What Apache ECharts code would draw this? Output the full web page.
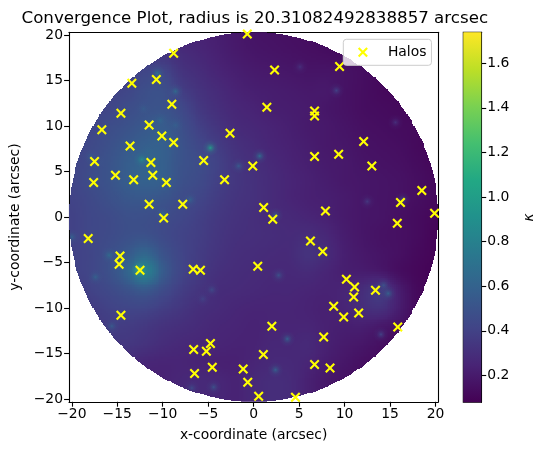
<!DOCTYPE html>
<html>
<head>
<meta charset="utf-8">
<style>html,body{margin:0;padding:0;background:#fff;overflow:hidden}#c{width:542px;height:455px}</style>
<script src="https://cdn.jsdelivr.net/npm/echarts@6/dist/echarts.min.js"></script>
</head>
<body>
<div id="c"></div>
<script>
// Convergence map sampled every 2 arcsec, rows run from y = +20 to y = -20.
const gridX = [-20,-18,-16,-14,-12,-10,-8,-6,-4,-2,0,2,4,6,8,10,12,14,16,18,20];
const gridY = [20,18,16,14,12,10,8,6,4,2,0,-2,-4,-6,-8,-10,-12,-14,-16,-18,-20];
const kappaRows = [
[.30,.30,.30,.30,.30,.30,.26,.24,.22,.19,.17,.16,.15,.14,.13,.12,.11,.10,.10,.10,.10],
[.32,.32,.32,.34,.34,.33,.29,.26,.23,.20,.18,.17,.16,.15,.14,.13,.12,.11,.10,.10,.10],
[.35,.35,.36,.38,.42,.42,.33,.29,.25,.22,.20,.19,.18,.17,.17,.16,.14,.12,.11,.10,.10],
[.36,.38,.40,.42,.47,.48,.38,.32,.28,.24,.22,.21,.20,.19,.19,.16,.14,.12,.11,.10,.10],
[.38,.40,.42,.46,.49,.50,.44,.35,.30,.26,.24,.22,.21,.20,.18,.16,.14,.13,.12,.10,.10],
[.40,.42,.46,.49,.53,.55,.48,.39,.33,.28,.26,.24,.22,.20,.19,.17,.15,.14,.13,.12,.10],
[.42,.44,.48,.53,.57,.58,.50,.43,.37,.31,.28,.25,.23,.21,.19,.18,.16,.15,.14,.12,.10],
[.42,.45,.50,.56,.60,.58,.50,.46,.40,.33,.30,.27,.24,.22,.20,.19,.17,.16,.15,.13,.11],
[.42,.46,.50,.56,.59,.57,.49,.45,.39,.34,.31,.28,.25,.23,.21,.19,.18,.17,.16,.14,.12],
[.41,.44,.48,.52,.53,.51,.46,.42,.37,.33,.31,.28,.25,.23,.22,.20,.18,.17,.16,.14,.12],
[.40,.43,.45,.48,.48,.46,.43,.39,.35,.32,.30,.28,.27,.25,.23,.20,.18,.17,.15,.13,.11],
[.40,.43,.45,.48,.49,.45,.41,.38,.34,.31,.30,.29,.28,.29,.26,.21,.18,.16,.15,.13,.10],
[.40,.42,.47,.53,.62,.50,.42,.37,.33,.30,.29,.28,.28,.32,.28,.22,.19,.17,.15,.12,.10],
[.40,.42,.48,.60,.80,.56,.42,.36,.31,.29,.28,.27,.27,.28,.25,.22,.21,.19,.14,.11,.09],
[.36,.40,.44,.49,.54,.46,.38,.33,.29,.28,.27,.26,.26,.25,.24,.25,.29,.35,.21,.12,.10],
[.33,.36,.40,.42,.42,.38,.34,.30,.28,.26,.25,.25,.25,.24,.23,.25,.29,.31,.21,.12,.10],
[.30,.33,.37,.37,.35,.32,.30,.28,.26,.25,.24,.25,.25,.25,.23,.22,.22,.19,.16,.11,.10],
[.28,.30,.33,.34,.32,.29,.27,.26,.25,.24,.24,.26,.26,.27,.23,.20,.18,.15,.12,.10,.10],
[.26,.27,.28,.28,.26,.25,.25,.24,.23,.23,.25,.27,.27,.25,.21,.18,.15,.13,.11,.10,.10],
[.24,.24,.24,.24,.24,.24,.26,.27,.26,.24,.27,.29,.28,.23,.19,.16,.14,.12,.11,.10,.10],
[.24,.24,.24,.24,.24,.24,.26,.27,.26,.24,.27,.29,.28,.23,.19,.16,.14,.12,.11,.10,.10]
];

// Compact substructure peaks: x, y, kappa at the peak.
const peaks = [
[-8.6,13.8,.65],[-10.6,15.8,.7],[-4.76,7.6,1],[-12.3,6.3,.85],[-11.6,7.2,.62],[-10.3,10.6,.62],
[-8.6,10.1,.58],[-12.1,11.9,.55],[-1.65,5.6,.55],[-17.9,6.6,.55],[-16.7,6,.5],[-7,1.9,.6],
[-10,.3,.65],[-15.2,2.1,.5],[.66,6.7,.68],[5.1,16.5,.3],[9.1,13.9,.4],[15.6,10.4,.3],
[16.4,1.9,.45],[12.5,1.7,.35],[2.4,.2,.55],[-20,-2.2,.6],[-15.9,-4.2,.65],[-17.4,-6.6,.6],
[-15.6,-12,.55],[-4.6,-8,.45],[-5.6,-9,.4],[-4.4,-18.7,.5],[-6.8,-18.8,.45],[-12.6,-5.8,1.25],
[2.75,-6.4,.5],[14.3,-7.5,.5],[14.8,-8.4,.6],[14,-12.9,.4],[3.7,-13.4,.6],[2.4,-16.8,.6]
];

const haloX = [-.7,-8.8,-13.4,-10.7,-9,-14.6,-16.7,-11.5,-10.1,-8.8,-13.6,-2.6,-5.5,-17.5,-11.3,-11.1,-15.2,-13.2,-9.6,-17.6,-3.2,-.1,-11.5,-7.8,-9.9,
2.3,9.45,1.45,6.7,6.7,12.1,9.35,6.7,13,18.5,16.15,1.1,7.9,19.9,2.1,15.8,6.25,7.6,.45,10.2,11.1,11,13.4,8.8,11.55,9.9,15.85,2,7.7,1.07,6.7,8.4,.55,4.6,
-18.2,-14.7,-14.8,-12.5,-6.65,-5.85,-14.6,-4.75,-5.2,-6.6,-4.55,-6.5,-1.15,-.65];
const haloY = [20.1,18,14.7,15.1,12.4,11.4,9.6,10.1,8.9,8.2,7.8,9.2,6.2,6.1,6,4.6,4.6,4.1,3.8,3.8,4.1,5.6,1.4,1.4,-.1,
16.15,16.55,12.05,11.65,11.1,8.3,6.9,6.65,5.6,2.9,1.6,1.05,.65,.4,-.25,-.7,-2.65,-3.8,-5.4,-6.85,-7.7,-8.8,-8.05,-9.8,-10.55,-11,-12.1,-12,-13.2,-15.1,-16.2,-16.6,-19.7,-19.8,
-2.35,-4.3,-5.2,-5.85,-5.75,-5.85,-10.8,-13.9,-14.75,-14.55,-16.5,-17.2,-16.7,-18.15];

const radius = 20.31082492838857;
const positionTicks = [-20,-15,-10,-5,0,5,10,15,20];
const colorbarTicks = [.2,.4,.6,.8,1,1.2,1.4,1.6];
const kappaMin = .079, kappaMax = 1.739;
const viridis = ['#440154','#482475','#414487','#355f8d','#2a788e','#21918c','#22a884','#44bf70','#7ad151','#bddf26','#fde725'];

const ink = '#000';
const font = 'DejaVu Sans';
const pixel = 2 * radius / 200;

const rgbStops = viridis.map(h => [1,3,5].map(i => parseInt(h.substr(i,2),16)));
function kappaRgb(k){
  const t = Math.min(1, Math.max(0, (k - kappaMin) / (kappaMax - kappaMin))) * 10;
  const i = Math.min(9, Math.floor(t)), f = t - i;
  return rgbStops[i].map((c,n) => Math.round(c + (rgbStops[i+1][n] - c) * f));
}
function kappaColor(k, a){
  const c = kappaRgb(k);
  return a === undefined ? `rgb(${c[0]},${c[1]},${c[2]})` : `rgba(${c[0]},${c[1]},${c[2]},${a})`;
}
// Catmull-Rom shading between the sampled values, as an image display would smooth them.
function cr(a,b,c,d,t){ return b + .5*t*(c-a + t*(2*a-5*b+4*c-d + t*(3*(b-c)+d-a))); }
function shade(X,Y){
  const gx = (X + 20) / 2, gy = (20 - Y) / 2;
  const ix = Math.floor(gx), iy = Math.floor(gy), fx = gx-ix, fy = gy-iy;
  const v = (r,c) => kappaRows[Math.max(0,Math.min(20,r))][Math.max(0,Math.min(20,c))];
  const row = r => cr(v(r,ix-1),v(r,ix),v(r,ix+1),v(r,ix+2),fx);
  return cr(row(iy-1),row(iy),row(iy+1),row(iy+2),fy);
}

const nodes = [];
gridY.forEach((y,r) => gridX.forEach((x,c) => nodes.push([x,y,kappaRows[r][c]])));

// One pixel of the shaded map, skipped when its centre falls outside the aperture.
function pushPixel(children, api, x0, y0, size){
  const X = x0 + size/2, Y = y0 + size/2;
  if (X*X + Y*Y > radius*radius) return;
  const a = api.coord([x0, y0+size]), b = api.coord([x0+size, y0]);
  const px = Math.round(a[0]), py = Math.round(a[1]);
  const w = Math.round(b[0])-px, h = Math.round(b[1])-py;
  if (w <= 0 || h <= 0) return;
  children.push({type:'rect', silent:true, shape:{x:px, y:py, width:w, height:h},
    style:{fill:kappaColor(shade(X,Y))}});
}

function renderCell(params, api){
  const xn = api.value(0), yn = api.value(1);
  const children = [];
  for (let i = -100; i < 100; i++){
    const X = (i + .5) * pixel;
    if (X < xn - 1 || X >= xn + 1) continue;
    for (let j = -100; j < 100; j++){
      const Y = (j + .5) * pixel;
      if (Y < yn - 1 || Y >= yn + 1) continue;
      const x0 = i*pixel, y0 = j*pixel;
      // The rim is stepped more finely than the interior.
      if (Math.hypot(X,Y) > radius - 1.5*pixel){
        const s = pixel/2;
        for (let p = 0; p < 2; p++) for (let q = 0; q < 2; q++)
          pushPixel(children, api, x0 + p*s, y0 + q*s, s);
      } else {
        pushPixel(children, api, x0, y0, pixel);
      }
    }
  }
  return {type:'group', children};
}

function renderPeak(params, api){
  const c = api.coord([api.value(0), api.value(1)]);
  const k = api.value(2);
  const o = api.coord([0,0]), rr = api.size([radius,0])[0];
  return {type:'circle', silent:true,
    shape:{cx:c[0], cy:c[1], r:8},
    clipPath:{type:'circle', shape:{cx:o[0], cy:o[1], r:rr}},
    style:{fill:new echarts.graphic.RadialGradient(.5,.5,.5,[
      {offset:0,color:kappaColor(k,1)},
      {offset:.2,color:kappaColor(k,.55)},
      {offset:.55,color:kappaColor(k,.15)},
      {offset:1,color:kappaColor(k,0)}])}};
}

function renderBar(params, api){
  const a = api.coord([0,kappaMax]), b = api.coord([1,kappaMin]);
  return {type:'rect', silent:true,
    shape:{x:a[0], y:a[1], width:b[0]-a[0], height:b[1]-a[1]},
    style:{fill:new echarts.graphic.LinearGradient(0,1,0,0,
      viridis.map((color,i) => ({offset:i/10,color})))}};
}

const minus = v => String(v).replace('-','\u2212');
const axisCommon = {
  min:-radius, max:radius, scale:true, splitLine:{show:false},
  axisLine:{show:true,onZero:false,lineStyle:{color:ink,width:1.1}},
  axisTick:{show:true,length:4.9,lineStyle:{color:ink,width:1.1},customValues:positionTicks},
  axisLabel:{color:'#000',fontFamily:font,fontSize:13.9,margin:6,formatter:minus,customValues:positionTicks},
  nameTextStyle:{color:'#000',fontFamily:font,fontSize:13.9}
};
const frameEdge = {min:-radius,max:radius,scale:true,splitLine:{show:false},
  axisLine:{show:true,onZero:false,lineStyle:{color:ink,width:1.1}},axisTick:{show:false},axisLabel:{show:false}};

const chart = echarts.init(document.getElementById('c'), null, {renderer:'canvas', width:542, height:455});
chart.setOption({
  animation:false,
  backgroundColor:'#fff',
  title:{text:'Convergence Plot, radius is 20.31082492838857 arcsec',left:21.5,top:10,padding:0,
    textStyle:{color:'#000',fontFamily:font,fontSize:16.67,fontWeight:'normal'}},
  legend:{data:['Halos'],left:343.3,top:39.3,orient:'vertical',padding:[6,5,6,14.6],
    itemWidth:10,itemHeight:10,itemGap:0,
    backgroundColor:'rgba(255,255,255,.8)',borderColor:'#ccc',borderWidth:1,borderRadius:3,
    textStyle:{color:'#000',fontFamily:font,fontSize:13.9,padding:[0,0,0,15]}},
  grid:[
    {left:69,top:32.2,width:369.3,height:369.6},
    {left:463.3,top:32.3,width:18,height:370,show:true,borderColor:ink,borderWidth:1.1,backgroundColor:'transparent'}
  ],
  xAxis:[
    Object.assign({},axisCommon,{type:'value',gridIndex:0,position:'bottom',name:'x-coordinate (arcsec)',nameLocation:'middle',nameGap:27}),
    Object.assign({},frameEdge,{type:'value',gridIndex:0,position:'top'}),
    {type:'value',gridIndex:1,min:0,max:1,show:false}
  ],
  yAxis:[
    Object.assign({},axisCommon,{type:'value',gridIndex:0,position:'left',name:'y-coordinate (arcsec)',nameLocation:'middle',nameGap:37,nameRotate:90}),
    Object.assign({},frameEdge,{type:'value',gridIndex:0,position:'right'}),
    {type:'value',gridIndex:1,position:'right',min:kappaMin,max:kappaMax,scale:true,splitLine:{show:false},
      axisLine:{show:true,onZero:false,lineStyle:{color:ink,width:1.1}},
      axisTick:{show:true,length:4.9,lineStyle:{color:ink,width:1.1},customValues:colorbarTicks},
      axisLabel:{color:'#000',fontFamily:font,fontSize:13.9,margin:6,formatter:v=>Number(v).toFixed(1),customValues:colorbarTicks},
      name:'\u03ba',nameLocation:'middle',nameGap:41,nameRotate:90,
      nameTextStyle:{color:'#000',fontFamily:font,fontSize:13.9,fontStyle:'italic'}}
  ],
  series:[
    {type:'custom',name:'kappa',xAxisIndex:0,yAxisIndex:0,renderItem:renderCell,data:nodes,
      encode:{x:0,y:1},clip:true,progressive:0,silent:true,z:1},
    {type:'custom',name:'peaks',xAxisIndex:0,yAxisIndex:0,renderItem:renderPeak,data:peaks,
      encode:{x:0,y:1},clip:true,progressive:0,silent:true,z:2},
    {type:'scatter',name:'Halos',xAxisIndex:0,yAxisIndex:0,clip:true,z:3,
      data:haloX.map((x,i)=>[x,haloY[i]]),
      symbol:'path://M1.5 0L5 3.5L8.5 0L10 1.5L6.5 5L10 8.5L8.5 10L5 6.5L1.5 10L0 8.5L3.5 5L0 1.5Z',
      symbolSize:10,itemStyle:{color:'#ffff00',opacity:1}},
    {type:'custom',name:'colorbar',xAxisIndex:2,yAxisIndex:2,renderItem:renderBar,data:[[0,kappaMin]],
      encode:{x:0,y:1},clip:false,silent:true,z:1}
  ]
});
</script>
</body>
</html>
